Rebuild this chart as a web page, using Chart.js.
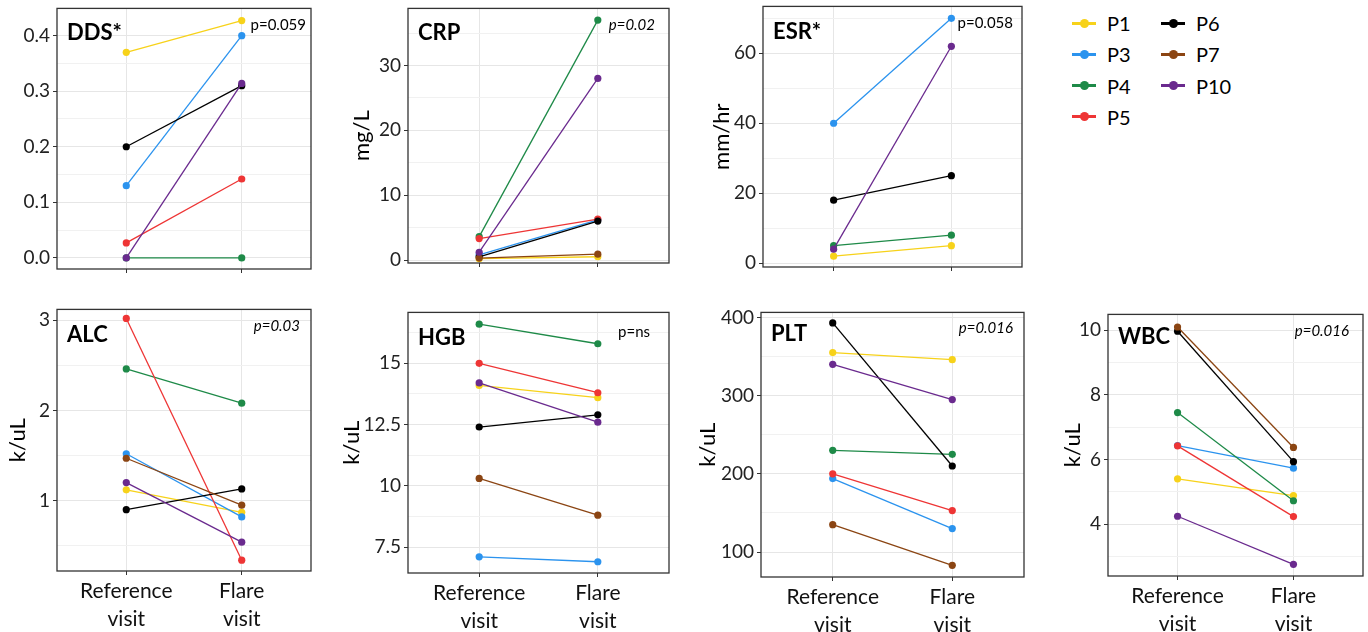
<!DOCTYPE html>
<html>
<head>
<meta charset="utf-8">
<script src="https://cdn.jsdelivr.net/npm/chart.js@4/dist/chart.umd.min.js"></script>
<style>
  body { margin: 0; width: 1368px; height: 632px; overflow: hidden; position: relative; background: #fff; font-family: Lato, sans-serif; }
  .panel { position: absolute; }
  .leg-item { position: absolute; height: 24px; display: flex; align-items: center; font-size: 20px; color: #000; }
  .leg-key { position: relative; width: 24px; height: 3px; margin-right: 11px; }
  .leg-key span { position: absolute; left: 8px; top: -3px; width: 9px; height: 9px; border-radius: 50%; }
</style>
</head>
<body>
<div id="legend"></div>
<script>
// patients and colours
const patients = ['P1', 'P3', 'P4', 'P5', 'P6', 'P7', 'P10'];
const patientColors = ['#F7D21A', '#2B93EE', '#1E8A48', '#EE3535', '#000000', '#8B4513', '#6A2A8E'];
const visitLabels = [['Reference', 'visit'], ['Flare', 'visit']];

const ddsRef   = [0.37, 0.13, 0.0, 0.027, 0.20, null, 0.0];
const ddsFlare = [0.427, 0.40, 0.0, 0.142, 0.31, null, 0.314];
const ddsTicks = [0, 0.1, 0.2, 0.3, 0.4];

const crpRef   = [0.2, 0.8, 3.6, 3.3, 0.5, 0.3, 1.2];
const crpFlare = [0.5, 6.2, 37.0, 6.3, 6.0, 0.9, 28.0];
const crpTicks = [0, 10, 20, 30];

const esrRef   = [2, 40, 5, null, 18, null, 4];
const esrFlare = [5, 70, 8, null, 25, null, 62];
const esrTicks = [0, 20, 40, 60];

const alcRef   = [1.12, 1.52, 2.46, 3.02, 0.90, 1.47, 1.20];
const alcFlare = [0.87, 0.82, 2.08, 0.34, 1.13, 0.95, 0.54];
const alcTicks = [1, 2, 3];

const hgbRef   = [14.1, 7.1, 16.6, 15.0, 12.4, 10.3, 14.2];
const hgbFlare = [13.6, 6.9, 15.8, 13.8, 12.9, 8.8, 12.6];
const hgbTicks = [7.5, 10, 12.5, 15];

const pltRef   = [355, 194, 230, 200, 393, 135, 340];
const pltFlare = [346, 130, 225, 153, 210, 83, 295];
const pltTicks = [100, 200, 300, 400];

const wbcRef   = [5.40, 6.43, 7.45, 6.42, 9.97, 10.10, 4.24];
const wbcFlare = [4.88, 5.73, 4.72, 4.23, 5.93, 6.37, 2.75];
const wbcTicks = [4, 6, 8, 10];

const panels = [
  { title: 'DDS*', unit: '', p: 'p=0.059', italic: false, ref: ddsRef, flare: ddsFlare, ticks: ddsTicks,
    yMin: -0.02, yMax: 0.449, box: [57, 8, 311, 269], yw: 57, pRight: 5, pTop: 17, tTop: 25, bottom: false, fmt: v => v.toFixed(1) },
  { title: 'CRP', unit: 'mg/L', p: 'p=0.02', italic: true, ref: crpRef, flare: crpFlare, ticks: crpTicks,
    yMin: -0.46, yMax: 38.8, box: [408, 8, 669, 263], yw: 63, pRight: 14, pTop: 17, tTop: 25, bottom: false, fmt: v => String(v) },
  { title: 'ESR*', unit: 'mm/hr', p: 'p=0.058', italic: false, ref: esrRef, flare: esrFlare, ticks: esrTicks,
    yMin: -1.1, yMax: 73.4, box: [763, 6, 1022, 267], yw: 58, pRight: 9, pTop: 17, tTop: 26, bottom: false, fmt: v => String(v) },
  { title: 'ALC', unit: 'k/uL', p: 'p=0.03', italic: true, ref: alcRef, flare: alcFlare, ticks: alcTicks,
    yMin: 0.22, yMax: 3.12, box: [57, 309, 311, 571], yw: 56, pRight: 11, pTop: 17, tTop: 26, bottom: true, fmt: v => String(v) },
  { title: 'HGB', unit: 'k/uL', p: 'p=ns', italic: false, ref: hgbRef, flare: hgbFlare, ticks: hgbTicks,
    yMin: 6.44, yMax: 17.08, box: [408, 312, 669, 573], yw: 73, pRight: 19, pTop: 20, tTop: 26, bottom: true, fmt: v => String(v) },
  { title: 'PLT', unit: 'k/uL', p: 'p=0.016', italic: true, ref: pltRef, flare: pltFlare, ticks: pltTicks,
    yMin: 68.1, yMax: 406.4, box: [761, 312, 1024, 577], yw: 70, pRight: 11, pTop: 16, tTop: 22, bottom: true, fmt: v => String(v) },
  { title: 'WBC', unit: 'k/uL', p: 'p=0.016', italic: true, ref: wbcRef, flare: wbcFlare, ticks: wbcTicks,
    yMin: 2.39, yMax: 10.49, box: [1108, 314, 1363, 576], yw: 52, pRight: 14, pTop: 17, tTop: 23, bottom: true, fmt: v => String(v) }
];

const PAD_TOP = 14, PAD_RIGHT = 4;

// panel border + title + p value
const panelText = {
  id: 'panelText',
  afterDraw(chart, args, opts) {
    const { ctx, chartArea: a } = chart;
    ctx.save();
    ctx.strokeStyle = '#333';
    ctx.lineWidth = 1.3;
    ctx.strokeRect(a.left, a.top, a.right - a.left, a.bottom - a.top);
    ctx.fillStyle = '#000';
    ctx.textBaseline = 'middle';
    ctx.textAlign = 'left';
    ctx.font = 'bold 22px Lato';
    ctx.fillText(opts.title, a.left + 10, a.top + opts.tTop);
    ctx.font = (opts.italic ? 'italic ' : '') + '15px Lato';
    ctx.textAlign = 'right';
    ctx.fillText(opts.p, a.right - opts.pRight, a.top + opts.pTop);
    ctx.restore();
  }
};

function minorTicks(ticks, lo, hi) {
  const step = ticks[1] - ticks[0];
  const out = [];
  for (let k = -3; k < ticks.length + 3; k++) {
    const m = ticks[0] + (k + 0.5) * step;
    if (m >= lo && m <= hi) out.push(m);
  }
  return out;
}

panels.forEach(pn => {
  const [l, t, r, b] = pn.box;
  const xh = pn.bottom ? 632 - b : 20;
  const div = document.createElement('div');
  div.className = 'panel';
  div.style.left = (l - pn.yw) + 'px';
  div.style.top = (t - PAD_TOP) + 'px';
  div.style.width = (r - l + pn.yw + PAD_RIGHT) + 'px';
  div.style.height = (b - t + PAD_TOP + xh) + 'px';
  const canvas = document.createElement('canvas');
  div.appendChild(canvas);
  document.body.appendChild(div);

  const minors = minorTicks(pn.ticks, pn.yMin, pn.yMax);
  const isMajor = v => pn.ticks.some(m => Math.abs(m - v) < 1e-9);
  const allTicks = pn.ticks.concat(minors).sort((a, c) => a - c);

  new Chart(canvas, {
    type: 'line',
    data: {
      datasets: patients.map((name, i) => ({
        label: name,
        data: pn.ref[i] == null ? [] : [{ x: 0, y: pn.ref[i] }, { x: 1, y: pn.flare[i] }],
        borderColor: patientColors[i],
        backgroundColor: patientColors[i],
        borderWidth: 1.3,
        pointRadius: 3.6,
        pointBorderWidth: 0,
        pointHoverRadius: 3.6,
        clip: false,
        order: patients.length - i
      }))
    },
    options: {
      responsive: true,
      maintainAspectRatio: false,
      animation: false,
      devicePixelRatio: 1,
      events: [],
      layout: { padding: { top: PAD_TOP, right: PAD_RIGHT, left: 0, bottom: 0 } },
      plugins: {
        legend: { display: false },
        tooltip: { enabled: false },
        panelText: { title: pn.title, p: pn.p, italic: pn.italic, pRight: pn.pRight, pTop: pn.pTop, tTop: pn.tTop }
      },
      scales: {
        x: {
          type: 'linear',
          min: -0.6, max: 1.6,
          afterBuildTicks: s => { s.ticks = [{ value: 0 }, { value: 1 }]; },
          afterFit: s => { s.height = xh; },
          ticks: {
            autoSkip: false, maxRotation: 0, padding: 2,
            color: '#111',
            font: { family: 'Lato', size: 21, lineHeight: 1.35 },
            callback: v => pn.bottom ? visitLabels[v] : ''
          },
          grid: { color: '#e6e6e6', tickColor: '#333', tickLength: 4 },
          border: { display: false }
        },
        y: {
          type: 'linear',
          min: pn.yMin, max: pn.yMax,
          afterBuildTicks: s => { s.ticks = allTicks.map(v => ({ value: v })); },
          afterFit: s => { s.width = pn.yw; },
          ticks: {
            autoSkip: false, padding: 3,
            color: '#222',
            font: { family: 'Lato', size: 19 },
            callback: v => isMajor(v) ? pn.fmt(v) : ''
          },
          grid: {
            color: c => isMajor(c.tick.value) ? '#e6e6e6' : '#f1f1f1',
            tickColor: c => isMajor(c.tick.value) ? '#333' : 'rgba(0,0,0,0)',
            tickLength: 4
          },
          border: { display: false },
          title: {
            display: !!pn.unit, text: pn.unit, color: '#000',
            font: { family: 'Lato', size: 22 },
            padding: { top: 4, bottom: 2 }
          }
        }
      }
    },
    plugins: [panelText]
  });
});

// legend, two columns
const legend = document.getElementById('legend');
patients.forEach((name, i) => {
  const col = i < 4 ? 0 : 1;
  const row = i < 4 ? i : i - 4;
  const item = document.createElement('div');
  item.className = 'leg-item';
  item.style.left = (col ? 1161 : 1072) + 'px';
  item.style.top = (23 + row * 31.3 - 12) + 'px';
  item.innerHTML = '<div class="leg-key" style="background:' + patientColors[i] + '"><span style="background:' +
    patientColors[i] + '"></span></div>' + name;
  legend.appendChild(item);
});
</script>
</body>
</html>
